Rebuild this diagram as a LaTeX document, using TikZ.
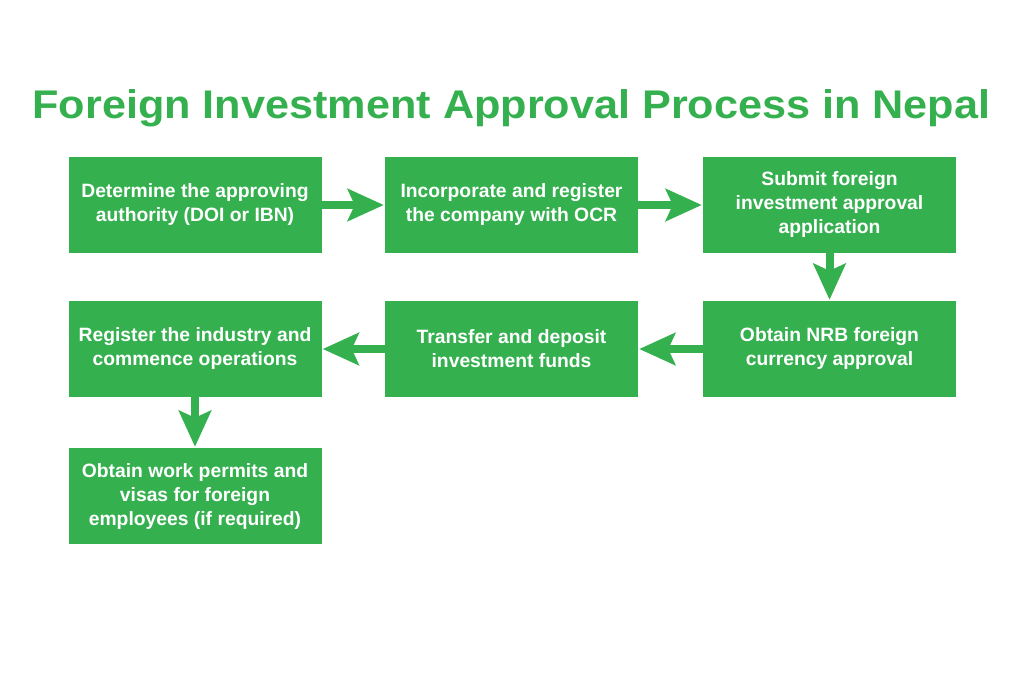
\documentclass[tikz,border=0pt]{standalone}
\usepackage{fontspec}
\setmainfont{Liberation Sans}
\usetikzlibrary{arrows.meta}
\definecolor{fgreen}{RGB}{53,176,79}
\begin{document}
\begin{tikzpicture}[x=1pt,y=-1pt,
  box/.style={fill=fgreen,draw=none,minimum width=253pt,minimum height=96pt,align=center,text=white,inner sep=0pt,font=\bfseries\fontsize{19.3}{24}\selectfont},
  arr/.style={draw=fgreen,line width=8pt,-{Stealth[length=36pt,width=32pt,inset=7pt]},shorten >=1pt}]
\useasboundingbox[fill=white] (0,0) rectangle (1024,683);
\node[anchor=base,text=fgreen,inner sep=0pt,font=\bfseries\fontsize{40}{44}\selectfont] (title) at (511.5,118) {\scalebox{1.08}[1]{Foreign Investment Approval Process in Nepal}};
\node[box] (b1) at (195,205) {Determine the approving\\authority (DOI or IBN)};
\node[box] (b2) at (511.5,205) {Incorporate and register\\the company with OCR};
\node[box] (b3) at (829.5,205) {Submit foreign\\investment approval\\application};
\node[box] (b6) at (829.5,349) {Obtain NRB foreign\\currency approval};
\node[box] (b5) at (511.5,349) {Transfer and deposit\\investment funds};
\node[box] (b4) at (195,349) {Register the industry and\\commence operations};
\node[box] (b7) at (195,496) {Obtain work permits and\\visas for foreign\\employees (if required)};
\draw[arr] (b1) -- (b2);
\draw[arr] (b2) -- (b3);
\draw[arr] (b3) -- (b6);
\draw[arr] (b6) -- (b5);
\draw[arr] (b5) -- (b4);
\draw[arr] (b4) -- (b7);
\end{tikzpicture}
\end{document}
